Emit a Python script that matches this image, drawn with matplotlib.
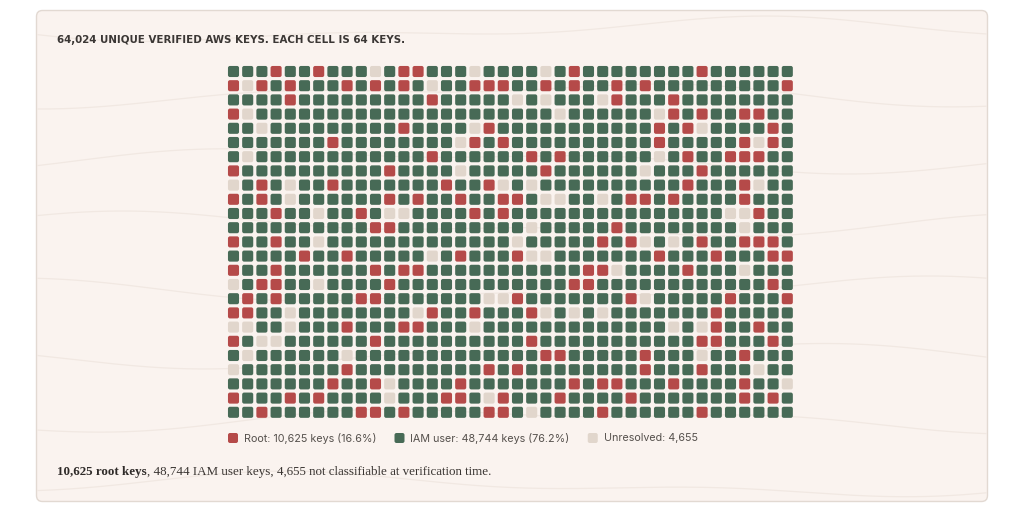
import numpy as np
import matplotlib
matplotlib.use("Agg")
import matplotlib.pyplot as plt
from matplotlib.patches import FancyBboxPatch

W, H = 1024, 512

title = "64,024 UNIQUE VERIFIED AWS KEYS. EACH CELL IS 64 KEYS."
categories = ["Root", "IAM user", "Unresolved"]
codes = ["R", "G", "U"]
key_counts = [10625, 48744, 4655]
legend_labels = ["Root: 10,625 keys (16.6%)", "IAM user: 48,744 keys (76.2%)", "Unresolved: 4,655"]
colors = ["#B54A49", "#476A56", "#E1D6CC"]
foot_bold = "10,625 root keys"
foot_rest = ", 48,744 IAM user keys, 4,655 not classifiable at verification time."

# one string per row, 40 cells each (R = root, G = IAM user, U = unresolved)
grid_rows = [
    "GGGRGGRGGG" "UGRRGGGUGG" "GGUGRGGGGG" "GGGRGGGGGG",
    "RURGRGGGRG" "RGRGUGGRRR" "GGRGRGGRGR" "GGGGGGGGGR",
    "GGGGRGGGGG" "GGGGRGGGGG" "UGUGGGURGG" "GRGGGGGGGG",
    "RUGGGGGGGG" "GGGGGGGGGG" "GGGUGGGGGG" "URGRGGRRGG",
    "GGUGGGGGGG" "GGRGGGGURG" "GGGGGGGGGG" "RGRUGGGGRG",
    "GGGGGGGRGG" "GGGGGGURGR" "GGGGGGGGGG" "RGGGGGRURG",
    "GUGGGGGGGG" "GGGGRGGGGG" "GRGRGGGGGG" "UGRGGRRRGG",
    "RGGGGGGGGG" "GRGGGGUGGG" "GGRGGGGGGU" "GGGRGGGGGG",
    "UGRGUGGRGG" "GGGGGRGGRU" "GUGGGGGGGG" "GGRGGGRUGG",
    "RGRGUGGGGG" "GRGRGGRGGR" "RGUUGGUGRR" "GRGGGGRGGG",
    "GGGRGGUGGR" "GUUGGGGRGR" "GGGGGGGGGG" "GGGGGUURGG",
    "GGGGGGGGGG" "RRGGGGGGGG" "GUGGGGGRGG" "GGGGGGUGGG",
    "RGGRGGUGGG" "GGGGGGGGGG" "UGGGGGRGRU" "GUGRGGRRRG",
    "GGGGGRGGRG" "GGGGUGRGGG" "RUUGGGGGGG" "RGGGRGGGRR",
    "RGGRGGGGGG" "RGRRGGGGGG" "GGGGGRRUGG" "GGRGGGUGGG",
    "UGRRGGUGGG" "GRGGGGGGGG" "GGGGRRGGGG" "GGGGGGGGRG",
    "GRGRGGGGGR" "RGGGGGGGUU" "RGGGGGGGRU" "GGGGGRGGGR",
    "RRGGUGGGGG" "GGGURGGRGG" "GRUGUGUGGG" "GGGGRGGGGG",
    "UUGGUGGGRG" "GGRRGGGUGG" "GGGGGGGGGG" "GUGURGGRGG",
    "RGUUGGGGGG" "RGGGGGGGGG" "GRGGGGGGGG" "GGGRRGGGRG",
    "GUGGGGGGUG" "GGGGGGGGGG" "GGRRGGGGGR" "GGGUGGRGGG",
    "UGGGGGGGRG" "GGGGGGGGRG" "RGGGGGGGGR" "GGGRGGGUGG",
    "GGGGGGGRGG" "RUGGGGRGGG" "GGGGRGRRGG" "GRGGGGRGGU",
    "RGGGRGRGGG" "GUGGGRRGUR" "GGGRGGGGRG" "GGGGGGRGRG",
    "GGRGGGGGGR" "RGRGGGGGRR" "GUGGGGRGGG" "GGGRGGGGGG",
]

n_rows = len(grid_rows)
n_cols = len(grid_rows[0])
color_of = dict(zip(codes, colors))

fig = plt.figure(figsize=(W / 100, H / 100), dpi=100)
fig.patch.set_facecolor("white")

# background layer in pixel coordinates
bg = fig.add_axes([0, 0, 1, 1])
bg.set_xlim(0, W)
bg.set_ylim(H, 0)
bg.axis("off")

card = FancyBboxPatch((36.5, 10.5), 951, 491, boxstyle="round,pad=0,rounding_size=6",
                      facecolor="#FAF3EF", edgecolor="#E2D9D2", linewidth=1.0, zorder=0)
bg.add_patch(card)

# faint decorative contour lines on the card
xs = np.linspace(38, 986, 300)
for k, y0 in enumerate([30, 95, 160, 225, 290, 355, 420, 485]):
    ys = y0 + 9 * np.sin(xs / 160 + k * 1.3) + 5 * np.sin(xs / 70 + k)
    bg.plot(xs, ys, color="#F1E8E2", lw=0.9, zorder=0.5)

bg.text(57, 40, title, fontsize=7.35, fontweight="bold", color="#3B3735",
        family="DejaVu Sans", va="center", ha="left")

# waffle grid
pitch = 14.2
gx0, gy0 = 226.4, 64.4
ax = fig.add_axes([gx0 / W, 1 - (gy0 + n_rows * pitch) / H, n_cols * pitch / W, n_rows * pitch / H])
ax.set_xlim(-0.5, n_cols - 0.5)
ax.set_ylim(n_rows - 0.5, -0.5)
ax.axis("off")

size = 0.78
for r, row in enumerate(grid_rows):
    for c, code in enumerate(row):
        ax.add_patch(FancyBboxPatch((c - size / 2, r - size / 2), size, size,
                                    boxstyle="round,pad=0,rounding_size=0.14",
                                    facecolor=color_of[code], edgecolor="none"))

# legend
fig.canvas.draw()
renderer = fig.canvas.get_renderer()
x = 228
ly = 438
for lab, col in zip(legend_labels, colors):
    bg.add_patch(FancyBboxPatch((x, ly - 5), 10, 10, boxstyle="round,pad=0,rounding_size=2",
                                facecolor=col, edgecolor="none"))
    t = bg.text(x + 16, ly, lab, fontsize=7.75, color="#55504C", family="Inter",
                va="center", ha="left")
    bb = t.get_window_extent(renderer)
    x = x + 16 + bb.width + 18

# footnote: bold lead then regular text
t1 = bg.text(57, 472, foot_bold, fontsize=9.4, fontweight="bold", color="#2F2B29",
             family="Liberation Serif", va="center", ha="left")
bb = t1.get_window_extent(renderer)
bg.text(57 + bb.width, 472, foot_rest, fontsize=9.4, color="#3A3532",
        family="Liberation Serif", va="center", ha="left")

fig.savefig("out.png", dpi=100, facecolor="white")
